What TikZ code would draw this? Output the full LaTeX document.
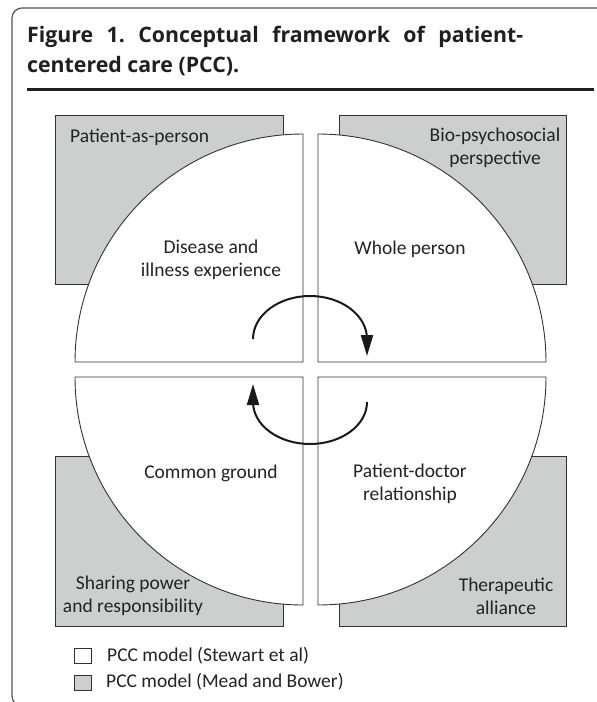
\documentclass[tikz,border=0pt]{standalone}
\usepackage{fontspec}
\setmainfont{Carlito}
\newfontfamily\titlefont{Open Sans}
\usetikzlibrary{arrows.meta}
\frenchspacing
\definecolor{boxgray}{RGB}{205,207,207}
\definecolor{linegray}{RGB}{50,50,50}
\definecolor{framegray}{RGB}{85,85,85}
\definecolor{txt}{RGB}{35,35,35}
\tikzset{
  mead/.style={fill=boxgray, draw=linegray, line width=0.9pt},
  stewart/.style={fill=white, draw=linegray, line width=0.9pt},
  lbl/.style={text=txt, font=\fontsize{19.5}{23}\selectfont, inner sep=0pt, align=center},
  ttl/.style={text=black!88, font=\titlefont\fontsize{21.3}{24}\selectfont\bfseries, inner sep=0pt, anchor=base west},
  cyc/.style={line width=2pt, draw=black!90, -{Triangle[length=21pt,width=12pt]}}
}
\begin{document}
\begin{tikzpicture}[x=1pt,y=-1pt]
\useasboundingbox (0,0) rectangle (597,702);
\clip (0,0) rectangle (597,702);
% outer frame
\draw[framegray, line width=1.2pt, rounded corners=10pt] (600,8) -- (12,8) -- (12,706) -- (600,706);
% title
\node[ttl] (t1) at (27,42) {\frenchspacing\makebox[496pt][s]{Figure 1. Conceptual framework of patient-}};
\node[ttl] (t2) at (27,72) {centered care (PCC).};
\draw[line width=3.5pt, black!88] (27,89.5) -- (594,89.5);
% Mead and Bower boxes
\draw[mead] (55,115) rectangle (283,284);
\draw[mead] (339,115) rectangle (566,284);
\draw[mead] (55,456) rectangle (283,626);
\draw[mead] (339,456) rectangle (566,626);
% Stewart quarters
\draw[stewart] (303,362) -- (75,362) arc[start angle=180,end angle=90,radius=228pt] -- cycle;
\draw[stewart] (318,362) -- (318,134) arc[start angle=90,end angle=0,radius=228pt] -- cycle;
\draw[stewart] (303,377) -- (75,377) arc[start angle=180,end angle=270,radius=228pt] -- cycle;
\draw[stewart] (318,377) -- (546,377) arc[start angle=0,end angle=-90,radius=228pt] -- cycle;
% labels
\node[lbl, anchor=west] (pap) at (70,137) {Patient-as-person};
\node[lbl] (bio) at (495,148) {Bio-psychosocial\\perspective};
\node[lbl] (dis) at (211,260) {Disease and\\illness experience};
\node[lbl] (who) at (410,249) {Whole person};
\node[lbl] (cg) at (211,473) {Common ground};
\node[lbl] (pdr) at (410,484) {Patient-doctor\\relationship};
\node[lbl] (spr) at (133,596) {Sharing power\\and responsibility};
\node[lbl] (ta) at (506,596) {Therapeutic\\alliance};
% cycle arrows
\coordinate (a1) at (253,339);
\coordinate (a2) at (367,402);
\draw[cyc] (a1) arc[start angle=180,end angle=0,x radius=57pt,y radius=43pt] -- ++(0,17);
\draw[cyc] (a2) arc[start angle=0,end angle=-180,x radius=57pt,y radius=42pt] -- ++(0,-18);
% legend
\draw[stewart, line width=1pt] (74,648) rectangle (91,663);
\draw[mead, line width=1pt] (74,675) rectangle (91,690);
\node[lbl, anchor=west] (l1) at (107,656) {PCC model (Stewart et al)};
\node[lbl, anchor=west] (l2) at (106,682) {PCC model (Mead and Bower)};
\end{tikzpicture}
\end{document}
